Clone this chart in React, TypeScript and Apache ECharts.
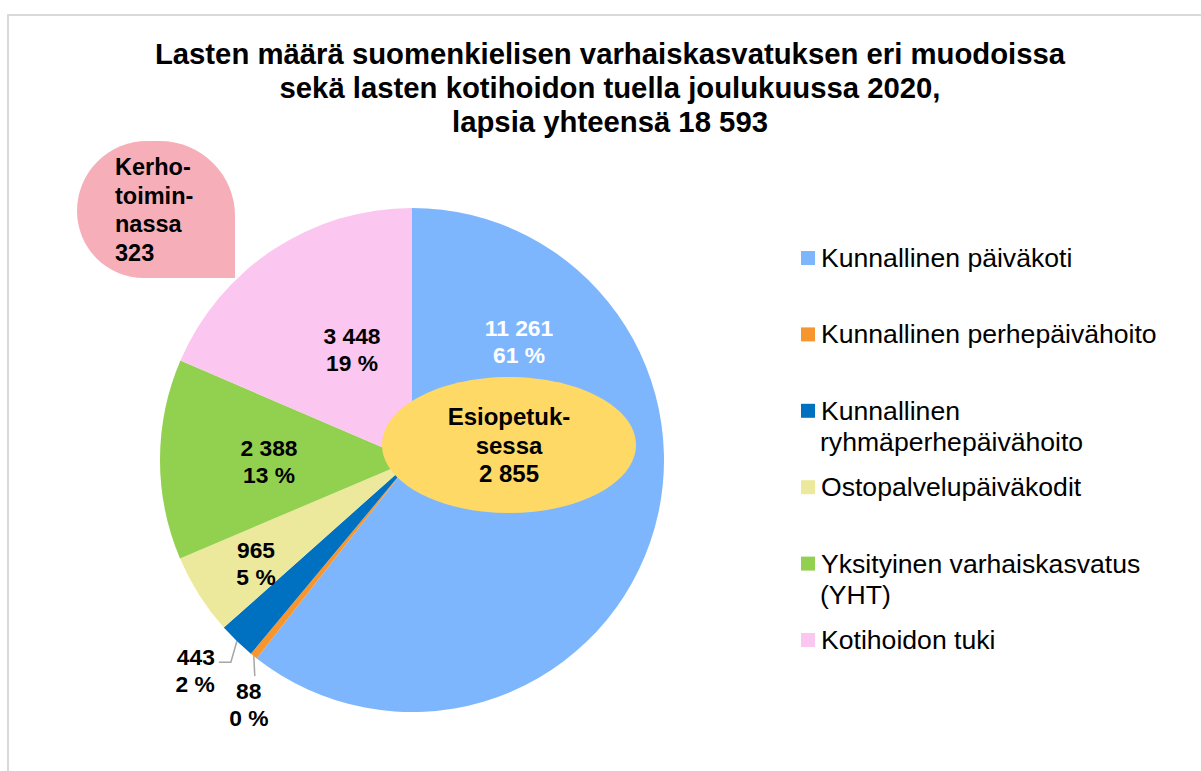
import React, { useEffect, useRef } from 'react';
import * as echarts from 'echarts';

const categories = [
  'Kunnallinen päiväkoti',
  'Kunnallinen perhepäivähoito',
  'Kunnallinen ryhmäperhepäivähoito',
  'Ostopalvelupäiväkodit',
  'Yksityinen varhaiskasvatus (YHT)',
  'Kotihoidon tuki',
];
const values = [11261, 88, 443, 965, 2388, 3448];
const colors = ['#7EB6FE', '#F7962E', '#0070C0', '#ECE99C', '#92D050', '#FBC6EF'];
const legendLines = [
  ['Kunnallinen päiväkoti'],
  ['Kunnallinen perhepäivähoito'],
  ['Kunnallinen', 'ryhmäperhepäivähoito'],
  ['Ostopalvelupäiväkodit'],
  ['Yksityinen varhaiskasvatus', '(YHT)'],
  ['Kotihoidon tuki'],
];
const titleLines = [
  'Lasten määrä suomenkielisen varhaiskasvatuksen eri muodoissa',
  'sekä lasten kotihoidon tuella joulukuussa 2020,',
];
const kerhoWords = ['Kerho-', 'toimin-', 'nassa'];
const kerhoCount = 323;
const esiWords = ['Esiopetuk-', 'sessa'];
const esiCount = 2855;

const FONT = '"Liberation Sans", Arial, sans-serif';
const fmt = (n: number) => String(n).replace(/\B(?=(\d{3})+(?!\d))/g, ' ');
const total = values.reduce((a, b) => a + b, 0);

// label offsets from library default positions (style only)
const insideShift: Record<number, [number, number]> = {
  0: [-15, -161],
  3: [-47, 34],
  4: [-14, 2],
  5: [11, -3],
};

const LEGEND_TOP = 243;
const LEGEND_STEP = 76.4;
const LEGEND_LH = 30;
const LEGEND_FS = 26.6;

export default function App() {
  const ref = useRef<HTMLDivElement>(null);
  useEffect(() => {
    if (!ref.current) return;
    const chart = echarts.init(ref.current, undefined, { renderer: 'svg' });

    const secondLines: any[] = [];
    legendLines.forEach((lines, i) => {
      if (lines.length > 1) {
        secondLines.push({
          type: 'text',
          z: 100,
          x: 820,
          y: LEGEND_TOP + LEGEND_LH / 2 + LEGEND_STEP * i + 31,
          style: {
            text: lines.slice(1).join('\n'),
            fontFamily: FONT,
            fontSize: LEGEND_FS,
            fill: '#000',
            align: 'left',
            verticalAlign: 'middle',
          },
        });
      }
    });

    const option: any = {
      animation: false,
      backgroundColor: '#fff',
      legend: {
        orient: 'vertical',
        left: 801,
        top: LEGEND_TOP,
        padding: 0,
        itemWidth: 14,
        itemHeight: 14,
        itemGap: LEGEND_STEP - LEGEND_LH,
        icon: 'rect',
        selectedMode: false,
        data: categories,
        formatter: (name: string) => legendLines[categories.indexOf(name)][0],
        textStyle: {
          fontFamily: FONT,
          fontSize: LEGEND_FS,
          color: '#000',
          lineHeight: LEGEND_LH,
          padding: [0, 0, 0, 1],
        },
      },
      graphic: [
        {
          type: 'rect',
          z: -10,
          silent: true,
          shape: { x: 8, y: 15, width: 1260, height: 820 },
          style: { fill: 'none', stroke: '#D9D9D9', lineWidth: 2 },
        },
        {
          type: 'text',
          z: 100,
          x: 610,
          y: 36,
          style: {
            text: [...titleLines, `lapsia yhteensä ${fmt(total)}`].join('\n'),
            fontFamily: FONT,
            fontSize: 29.3,
            fontWeight: 'bold',
            fill: '#000',
            lineHeight: 34,
            align: 'center',
            verticalAlign: 'top',
          },
        },
        {
          type: 'rect',
          z: 100,
          shape: { x: 77, y: 141, width: 158, height: 137, r: [70, 75, 0, 67] },
          style: { fill: '#F6AFB8' },
        },
        {
          type: 'text',
          z: 101,
          x: 115,
          y: 210,
          style: {
            text: [...kerhoWords, String(kerhoCount)].join('\n'),
            fontFamily: FONT,
            fontSize: 23.5,
            fontWeight: 'bold',
            fill: '#000',
            lineHeight: 28.5,
            align: 'left',
            verticalAlign: 'middle',
          },
        },
        {
          type: 'ellipse',
          z: 100,
          shape: { cx: 509, cy: 445, rx: 127, ry: 68 },
          style: { fill: '#FED966' },
        },
        {
          type: 'text',
          z: 101,
          x: 509,
          y: 445,
          style: {
            text: [...esiWords, fmt(esiCount)].join('\n'),
            fontFamily: FONT,
            fontSize: 24,
            fontWeight: 'bold',
            fill: '#000',
            lineHeight: 28.3,
            align: 'center',
            verticalAlign: 'middle',
          },
        },
        ...secondLines,
      ],
      series: [
        {
          type: 'pie',
          center: [412, 460],
          radius: 252,
          startAngle: 90,
          clockwise: true,
          avoidLabelOverlap: false,
          itemStyle: { borderWidth: 0 },
          emphasis: { disabled: true },
          label: {
            show: true,
            position: 'inside',
            fontFamily: FONT,
            fontSize: 22.8,
            fontWeight: 'bold',
            color: '#000',
            lineHeight: 27,
            align: 'center',
            formatter: (p: any) =>
              `${fmt(p.value)}\n${Math.round((p.value / total) * 100)} %`,
          },
          labelLine: { show: false },
          data: categories.map((name, i) => {
            const d: any = { name, value: values[i], itemStyle: { color: colors[i] } };
            if (i === 0) d.label = { color: '#fff' };
            if (i === 1 || i === 2) {
              d.label = { position: 'outside' };
              d.labelLine = {
                show: true,
                length: 20,
                length2: 10,
                lineStyle: { color: '#A6A6A6', width: 1.5 },
              };
            }
            return d;
          }),
          labelLayout: (params: any) => {
            const i = params.dataIndex;
            if (insideShift[i]) {
              return { dx: insideShift[i][0], dy: insideShift[i][1] };
            }
            const pts = params.labelLinePoints;
            if (!pts) return {};
            const p0 = pts[0];
            if (i === 1) {
              return {
                x: p0[0] - 5,
                y: p0[1] + 48,
                align: 'center',
                verticalAlign: 'middle',
                labelLinePoints: [p0, [p0[0] + 1, p0[1] + 20], [p0[0] + 1, p0[1] + 20]],
              };
            }
            if (i === 2) {
              return {
                x: p0[0] - 22,
                y: p0[1] + 29,
                align: 'right',
                verticalAlign: 'middle',
                labelLinePoints: [p0, [p0[0] - 6, p0[1] + 21], [p0[0] - 18, p0[1] + 21]],
              };
            }
            return {};
          },
        },
      ],
    };
    chart.setOption(option);
    return () => chart.dispose();
  }, []);

  return (
    <div
      ref={ref}
      style={{ position: 'fixed', left: 0, top: 0, width: 1201, height: 771, background: '#fff' }}
    />
  );
}
